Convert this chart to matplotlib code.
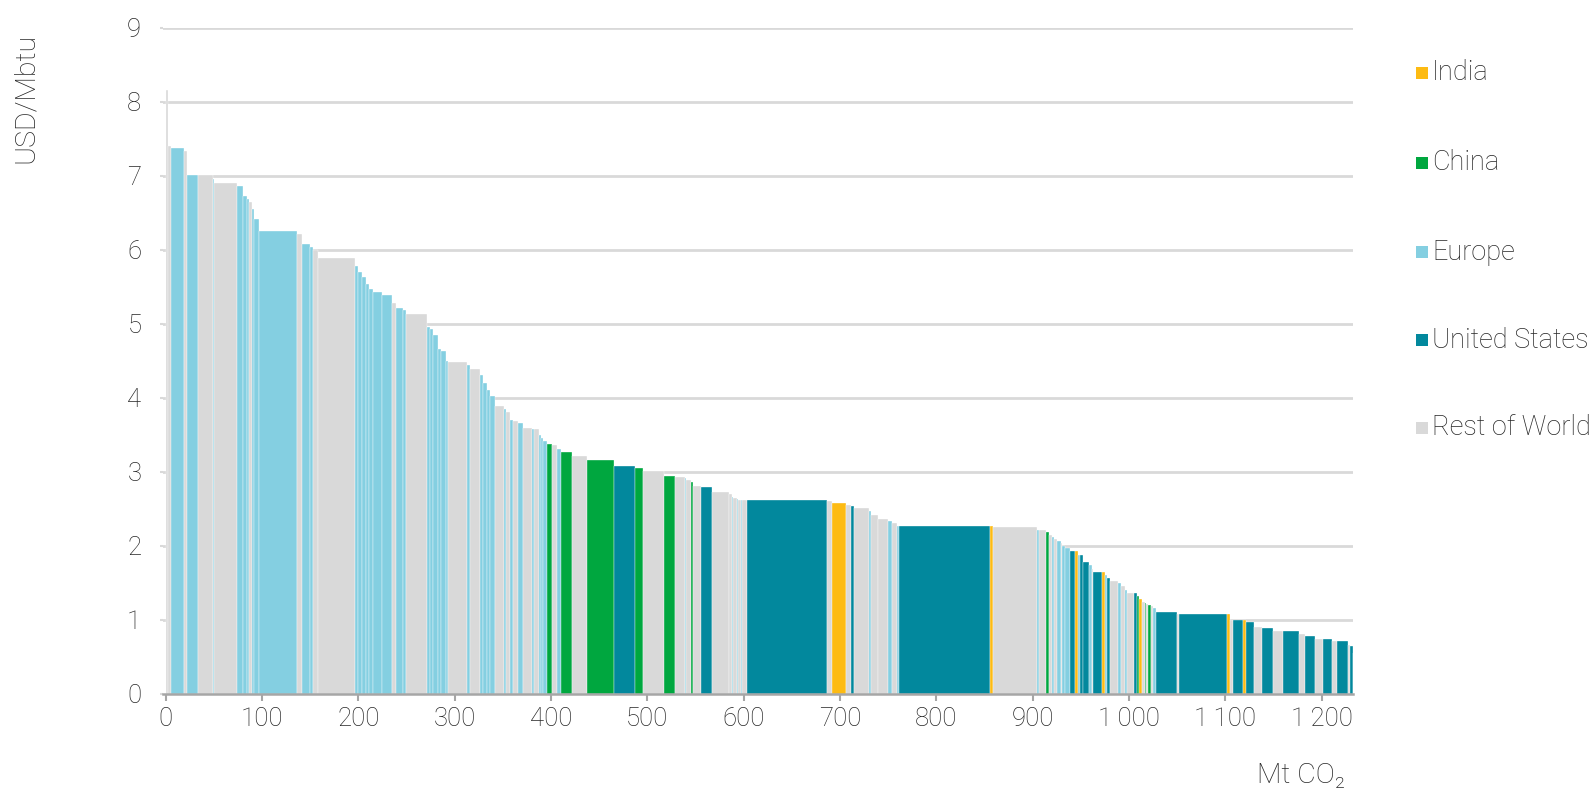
import matplotlib
matplotlib.use("Agg")
import matplotlib.pyplot as plt
from matplotlib.patches import Rectangle
import numpy as np

plt.rcParams['font.family'] = ['Roboto', 'DejaVu Sans']

# ---- data: supply segments (width in Mt CO2, cost in USD/Mbtu, region) ----
widths = [2.6, 2.8, 13.8, 2.5, 11.4, 16.2, 0.9, 24.2, 6.1, 4.1,
          2.1, 2.4, 2.8, 5.2, 38.8, 5.8, 8.0, 2.8, 5.1, 38.8,
          3.5, 4.1, 3.5, 3.5, 4.4, 9.4, 10.5, 3.3, 8.0, 2.7,
          22.4, 2.6, 3.4, 5.2, 2.5, 5.1, 2.8, 19.7, 2.8, 10.7,
          3.1, 3.5, 3.5, 5.2, 9.6, 1.7, 4.2, 3.5, 5.2, 5.1,
          8.7, 2.4, 5.6, 2.2, 2.0, 3.4, 5.9, 4.5, 4.5, 11.1,
          16.2, 27.7, 22.1, 8.3, 21.8, 11.1, 10.4, 1.6, 4.4, 2.4,
          8.6, 11.4, 17.3, 2.7, 1.1, 4.1, 1.2, 3.2, 1.5, 5.2,
          83.0, 5.5, 13.8, 5.2, 3.2, 15.9, 1.4, 7.9, 10.4, 3.5,
          5.2, 2.8, 94.1, 2.8, 46.3, 1.8, 6.9, 3.5, 3.4, 2.1,
          2.4, 4.2, 1.0, 3.5, 5.1, 5.2, 3.5, 1.7, 3.5, 5.9,
          2.8, 1.7, 8.6, 3.5, 2.4, 2.8, 8.0, 3.4, 4.2, 2.4,
          6.9, 2.8, 2.4, 3.4, 2.8, 1.5, 2.0, 2.4, 2.8, 2.7,
          21.5, 2.8, 49.1, 3.5, 2.7, 10.4, 3.5, 8.3, 8.0, 12.1,
          10.4, 16.6, 5.8, 10.4, 8.7, 8.6, 5.2, 11.5, 2.5, 2.8,
          0.6]

costs = [8.15, 7.40, 7.37, 7.33, 7.01, 7.01, 6.95, 6.90, 6.86, 6.72,
         6.68, 6.64, 6.55, 6.41, 6.25, 6.21, 6.07, 6.03, 5.99, 5.89,
         5.78, 5.70, 5.63, 5.53, 5.46, 5.42, 5.39, 5.28, 5.21, 5.18,
         5.13, 4.95, 4.92, 4.85, 4.66, 4.63, 4.50, 4.48, 4.44, 4.38,
         4.30, 4.19, 4.10, 4.02, 3.88, 3.84, 3.81, 3.70, 3.68, 3.66,
         3.59, 3.57, 3.57, 3.50, 3.45, 3.41, 3.37, 3.36, 3.30, 3.26,
         3.21, 3.16, 3.08, 3.05, 3.01, 2.94, 2.93, 2.91, 2.89, 2.86,
         2.80, 2.79, 2.72, 2.69, 2.66, 2.64, 2.63, 2.62, 2.62, 2.62,
         2.61, 2.60, 2.57, 2.55, 2.53, 2.51, 2.47, 2.41, 2.36, 2.33,
         2.30, 2.27, 2.26, 2.26, 2.25, 2.21, 2.21, 2.18, 2.14, 2.11,
         2.09, 2.06, 2.04, 1.99, 1.96, 1.93, 1.93, 1.87, 1.87, 1.78,
         1.74, 1.68, 1.64, 1.64, 1.60, 1.56, 1.52, 1.49, 1.45, 1.40,
         1.36, 1.36, 1.32, 1.28, 1.24, 1.22, 1.21, 1.20, 1.18, 1.16,
         1.10, 1.08, 1.07, 1.07, 1.00, 0.99, 0.99, 0.96, 0.90, 0.88,
         0.85, 0.85, 0.80, 0.78, 0.74, 0.74, 0.71, 0.71, 0.66, 0.64,
         0.55]

regions = ['R', 'R', 'E', 'R', 'E', 'R', 'E', 'R', 'E', 'E',
           'E', 'R', 'E', 'E', 'E', 'R', 'E', 'E', 'R', 'R',
           'E', 'E', 'E', 'E', 'E', 'E', 'E', 'R', 'E', 'E',
           'R', 'E', 'E', 'E', 'E', 'E', 'E', 'R', 'E', 'R',
           'E', 'E', 'E', 'E', 'R', 'E', 'R', 'E', 'R', 'E',
           'R', 'E', 'R', 'E', 'E', 'E', 'C', 'R', 'E', 'C',
           'R', 'C', 'U', 'C', 'R', 'C', 'R', 'E', 'R', 'C',
           'R', 'U', 'R', 'R', 'E', 'R', 'E', 'R', 'E', 'R',
           'U', 'R', 'I', 'R', 'U', 'R', 'E', 'R', 'R', 'E',
           'R', 'E', 'U', 'I', 'R', 'E', 'R', 'C', 'R', 'E',
           'R', 'E', 'R', 'E', 'E', 'U', 'I', 'E', 'U', 'U',
           'E', 'R', 'U', 'I', 'E', 'U', 'R', 'E', 'R', 'E',
           'R', 'U', 'C', 'I', 'R', 'C', 'R', 'C', 'R', 'E',
           'U', 'R', 'U', 'I', 'R', 'U', 'I', 'U', 'R', 'U',
           'R', 'U', 'R', 'U', 'R', 'U', 'R', 'U', 'R', 'U',
           'C']

legend_codes = ['I', 'C', 'E', 'U', 'R']
legend_labels = ['India', 'China', 'Europe', 'United States', 'Rest of World']
palette = {'I': '#FDBB13', 'C': '#00A73F', 'E': '#84CFE1',
           'U': '#02889D', 'R': '#D9D9D9'}

x_ticks = [0, 100, 200, 300, 400, 500, 600, 700, 800, 900, 1000, 1100, 1200]
x_ticklabels = ['0', '100', '200', '300', '400', '500', '600', '700', '800',
                '900', '1\u2009000', '1\u2009100', '1\u2009200']
y_ticks = [0, 1, 2, 3, 4, 5, 6, 7, 8, 9]

# ---- figure ----
W, H = 1596, 788
fig = plt.figure(figsize=(W / 100, H / 100), dpi=100)
ax = fig.add_axes([162.9 / W, 1 - 693.5 / H, (1353 - 162.9) / W, (693.5 - 27.5) / H])

w = np.array(widths)
starts = np.concatenate([[0], np.cumsum(w)[:-1]])
cols = [palette[r] for r in regions]
ax.bar(starts, costs, width=w, align='edge', color=cols,
       edgecolor='white', linewidth=0.25, zorder=3)

ax.set_xlim(-3, 1232.6)
ax.set_ylim(0, 9)
ax.set_yticks(y_ticks)
ax.set_xticks(x_ticks)
ax.set_xticklabels(x_ticklabels)

for yv in y_ticks[1:]:
    ax.axhline(yv, color='#D9D9D9', lw=2.0, zorder=1)

for s in ['top', 'right', 'left']:
    ax.spines[s].set_visible(False)
ax.spines['bottom'].set_color('#A6A6A6')
ax.spines['bottom'].set_linewidth(1.8)
ax.spines['bottom'].set_zorder(4)

ax.tick_params(axis='x', length=5, width=1.5, color='#A6A6A6', pad=5,
               labelsize=18.5, labelcolor='#262626')
ax.tick_params(axis='y', length=2.5, width=1.5, color='#D9D9D9', pad=13,
               labelsize=18.5, labelcolor='#262626')
for lab in ax.get_xticklabels() + ax.get_yticklabels():
    lab.set_fontweight('light')

fig.text(25 / W, 1 - 98 / H, 'USD/Mbtu', rotation=90, ha='center', va='center',
         fontsize=20.5, color='#262626', fontweight='light')
fig.text(1345 / W, 1 - 775 / H, 'Mt CO\u2082', ha='right', va='center',
         fontsize=20.5, color='#262626', fontweight='light')

# legend
rows_py = [73, 163, 252, 340, 428]
for code, lab, py in zip(legend_codes, legend_labels, rows_py):
    sq = 12
    fig.add_artist(Rectangle((1416 / W, 1 - (py + sq / 2) / H), sq / W, sq / H,
                             transform=fig.transFigure, facecolor=palette[code],
                             edgecolor='none'))
    fig.text(1432 / W, 1 - py / H, lab, ha='left', va='center',
             fontsize=19.5, color='#262626', fontweight='light')

fig.savefig('out.png', dpi=100)
